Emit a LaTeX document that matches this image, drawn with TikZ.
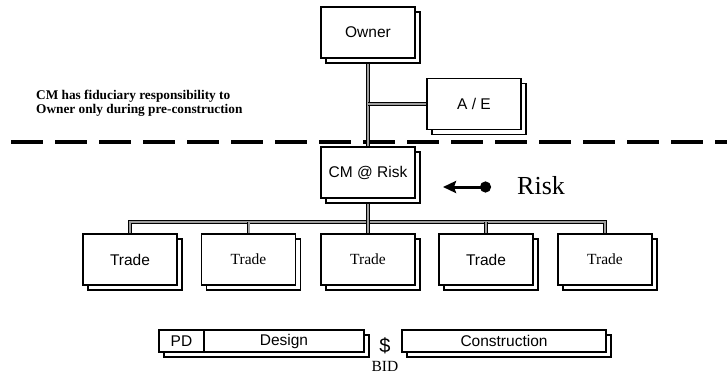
\documentclass[tikz,border=0pt]{standalone}
\usepackage{fontspec}
\setmainfont{Liberation Serif}
\setsansfont{Liberation Sans}
\usetikzlibrary{arrows.meta,shadows}
\begin{document}
\begin{tikzpicture}[x=1pt,y=-1pt,
  box/.style={draw=black, fill=white, line width=1.1pt, minimum width=94pt, minimum height=51pt, inner sep=0pt,
    copy shadow={shadow xshift=5pt, shadow yshift=-5pt}},
  sans/.style={font=\sffamily\fontsize{15.5}{18}\selectfont},
  serif/.style={font=\rmfamily\fontsize{15.5}{18}\selectfont},
  conn/.style={line width=0.7pt, double=gray!75, double distance=2pt},
  bar/.style={draw=black, fill=white, line width=1.1pt, minimum height=22pt, inner sep=0pt,
    font=\sffamily\fontsize{15.5}{18}\selectfont},
]
\useasboundingbox (0,0) rectangle (727,374);

% separator
\coordinate (dl) at (11,142);
\coordinate (dr) at (727,142);
\draw[line width=4pt, dash pattern=on 32pt off 12pt] (dl) -- (dr);

% connector anchors
\coordinate (bus) at (368,222);

% connectors (drawn first so boxes cover their ends)
\path (368,32.5) coordinate (oc) (474,104) coordinate (aec) (368,172.5) coordinate (cmc);
\path (130,259.5) coordinate (t1c) (248.5,259.5) coordinate (t2c) (368,259.5) coordinate (t3c)
      (486,259.5) coordinate (t4c) (605,259.5) coordinate (t5c);
\draw[conn] (oc) -- (cmc);
\draw[conn] (aec) -- (aec -| oc);
\draw[conn] (t1c) |- (bus) -| (t5c);
\draw[conn] (cmc) -- (t3c);
\draw[conn] (t2c) -- (t2c |- bus);
\draw[conn] (t4c) -- (t4c |- bus);

% boxes
\node[box,sans] (owner) at (oc) {Owner};
\node[box,sans] (ae) at (aec) {A / E};
\node[box,sans] (cm) at (cmc) {CM @ Risk};
\node[box,sans]  (t1) at (t1c) {Trade};
\node[box,serif] (t2) at (t2c) {Trade};
\node[box,serif] (t3) at (t3c) {Trade};
\node[box,sans]  (t4) at (t4c) {Trade};
\node[box,serif] (t5) at (t5c) {Trade};

% note
\node[font=\rmfamily\bfseries\fontsize{13.3}{13.6}\selectfont, align=left, anchor=west, inner sep=0pt]
  (note) at (36,103.5) {CM has fiduciary responsibility to\\Owner only during pre-construction};

% risk arrow
\coordinate (rs) at (491,187);
\coordinate (re) at (443,187);
\draw[line width=3pt, {Circle[length=11pt]}-{Stealth[length=13pt,width=12pt,inset=2pt]}] (rs) -- (re);
\node[font=\rmfamily\fontsize{26}{30}\selectfont, anchor=west, inner sep=0pt] (risk) at (517,186) {Risk};

% timeline bar
\draw[line width=1.1pt, fill=white] (164,335) rectangle (369,357);
\node[bar, minimum width=45pt] (pd) at (181.5,341) {PD};
\node[bar, minimum width=160pt] (design) at (284,341) {Design};
\node[bar, minimum width=204pt, copy shadow={shadow xshift=5pt, shadow yshift=-5pt}] (constr) at (504,341) {Construction};
\node[font=\sffamily\fontsize{20}{24}\selectfont, inner sep=0pt] (dollar) at (385,346) {\$};
\node[font=\rmfamily\fontsize{15.5}{18}\selectfont, inner sep=0pt] (bid) at (385,366.5) {BID};
\end{tikzpicture}
\end{document}
